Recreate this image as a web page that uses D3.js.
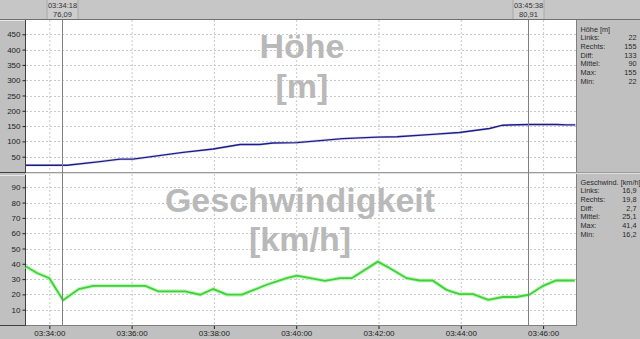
<!DOCTYPE html>
<html><head><meta charset="utf-8">
<script src="https://cdn.jsdelivr.net/npm/d3@7"></script>
<style>body{margin:0;background:#c0c0c0}svg{display:block;font-family:"Liberation Sans",Arial,sans-serif}</style>
</head><body><svg id="c" width="640" height="339"></svg>
<script>
const hoeheTimes = ["03:33:26","03:34:26","03:35:14","03:35:43","03:36:02","03:37:15","03:37:59","03:38:38","03:39:07","03:39:26","03:40:01","03:41:08","03:41:58","03:42:27","03:43:19","03:43:58","03:44:42","03:45:01","03:45:40","03:46:20","03:46:34","03:46:47"];
const hoeheValues = [22,22,34,42,42,64,75,90,90,95,96,109,114,115,123,129,142,153,155,155,154,154];
const speedTimes = ["03:33:26","03:33:42","03:34:00","03:34:20","03:34:43","03:35:04","03:36:20","03:36:39","03:37:18","03:37:40","03:37:59","03:38:19","03:38:41","03:39:17","03:39:46","03:40:01","03:40:42","03:41:04","03:41:21","03:41:59","03:42:16","03:42:41","03:43:00","03:43:19","03:43:39","03:43:58","03:44:18","03:44:40","03:45:01","03:45:21","03:45:40","03:46:00","03:46:19","03:46:46"];
const speedValues = [38.2,34,30.6,16.2,23.5,25.6,25.6,22,22,19.8,23.5,19.8,19.8,26.3,30.6,32.2,28.9,30.6,30.6,41.4,37.2,30.6,29.1,29.1,23,20.2,20.2,16.4,18.3,18.3,19.8,25.6,29.1,29.1];
const hoeheTicks = [50,100,150,200,250,300,350,400,450];
const speedTicks = [10,20,30,40,50,60,70,80,90];
const cursorTimes = ["03:34:18","03:45:38"];
const cursorLabels = ["76,09","80,91"];
const statLabels = ["Links:","Rechts:","Diff:","Mittel:","Max:","Min:"];
const hoeheStats = ["22","155","133","90","155","22"];
const speedStats = ["16,9","19,8","2,7","25,1","41,4","16,2"];
const domainStart = "03:33:26", domainEnd = "03:46:48";

const parse = d3.timeParse("%H:%M:%S");
const svg = d3.select("#c");
const L = 26, R = 576;
const x = d3.scaleTime().domain([parse(domainStart), parse(domainEnd)]).range([L, R]);
const yTop = d3.scaleLinear().domain([0,500]).range([172,19]);
const yBot = d3.scaleLinear().domain([0,100]).range([325,172]);

// backgrounds
svg.append("rect").attr("x",0).attr("y",0).attr("width",640).attr("height",339).attr("fill","#c0c0c0");
svg.append("rect").attr("x",0).attr("y",0).attr("width",640).attr("height",19).attr("fill","#c6c6c6");
svg.append("line").attr("x1",0).attr("x2",640).attr("y1",19.5).attr("y2",19.5).attr("stroke","#707070");
// plot areas
svg.append("rect").attr("x",L).attr("y",20).attr("width",R-L).attr("height",152).attr("fill","#fff");
svg.append("rect").attr("x",L).attr("y",174).attr("width",R-L).attr("height",151).attr("fill","#fff");
svg.append("line").attr("x1",L).attr("x2",640).attr("y1",172.5).attr("y2",172.5).attr("stroke","#9a9a9a");
svg.append("line").attr("x1",L).attr("x2",640).attr("y1",173.5).attr("y2",173.5).attr("stroke","#e0e0e0");
// left strips
[[20,172],[175,325]].forEach(([a,b])=>{
  svg.append("rect").attr("x",0).attr("y",a).attr("width",25).attr("height",b-a).attr("fill","#c0c0c0");
  svg.append("line").attr("x1",25.5).attr("x2",25.5).attr("y1",a).attr("y2",b).attr("stroke","#404040");
  svg.append("line").attr("x1",0).attr("x2",26).attr("y1",b+0.5).attr("y2",b+0.5).attr("stroke","#404040");
  svg.append("line").attr("x1",0).attr("x2",25).attr("y1",a+0.5).attr("y2",a+0.5).attr("stroke","#e8e8e8");
});
// right stat panels
[[20,172],[174,326]].forEach(([a,b])=>{
  svg.append("line").attr("x1",R+0.5).attr("x2",R+0.5).attr("y1",a).attr("y2",b).attr("stroke","#808080");
});
svg.append("line").attr("x1",L).attr("x2",R).attr("y1",325.5).attr("y2",325.5).attr("stroke","#808080");

// grid
const xt = x.ticks(d3.timeMinute.every(2));
const gridG = svg.append("g").attr("stroke","#c8c8c8").attr("stroke-dasharray","2,2");
xt.forEach(t=>{
  gridG.append("line").attr("x1",x(t)+0.5).attr("x2",x(t)+0.5).attr("y1",20).attr("y2",172);
  gridG.append("line").attr("x1",x(t)+0.5).attr("x2",x(t)+0.5).attr("y1",174).attr("y2",325);
});
hoeheTicks.forEach(v=>gridG.append("line").attr("x1",L).attr("x2",R).attr("y1",Math.round(yTop(v))+0.5).attr("y2",Math.round(yTop(v))+0.5));
speedTicks.forEach(v=>gridG.append("line").attr("x1",L).attr("x2",R).attr("y1",Math.round(yBot(v))+0.5).attr("y2",Math.round(yBot(v))+0.5));

// watermarks
const wm = svg.append("g").attr("fill","#b9b9b9").attr("font-weight","bold").attr("font-size",34).attr("text-anchor","middle");
wm.append("text").attr("x",302).attr("y",58).text("Höhe");
wm.append("text").attr("x",302).attr("y",98).text("[m]");
wm.append("text").attr("x",300).attr("y",212).text("Geschwindigkeit");
wm.append("text").attr("x",300).attr("y",251).text("[km/h]");

// y axes
const axL = (g)=>{g.select(".domain").remove(); g.selectAll("text").attr("fill","#222").attr("font-size",8).attr("x",-5); g.selectAll("line").attr("stroke","#222");};
svg.append("g").attr("transform","translate(25.5,0)").call(d3.axisLeft(yTop).tickValues(hoeheTicks).tickSize(3).tickPadding(2)).call(axL);
svg.append("g").attr("transform","translate(25.5,0)").call(d3.axisLeft(yBot).tickValues(speedTicks).tickSize(3).tickPadding(2)).call(axL);
svg.selectAll("g text").attr("font-family","Liberation Sans, Arial, sans-serif");

// x axis
svg.append("g").attr("transform","translate(0,326)")
  .call(d3.axisBottom(x).tickValues(xt).tickFormat(d3.timeFormat("%H:%M:%S")).tickSize(3).tickPadding(1))
  .call(g=>{g.select(".domain").remove(); g.selectAll("text").attr("fill","#222").attr("font-size",8).attr("font-family","Liberation Sans, Arial, sans-serif"); g.selectAll("line").attr("stroke","#222");});

// lines
const hData = hoeheTimes.map((t,i)=>({t:parse(t),v:hoeheValues[i]}));
const sData = speedTimes.map((t,i)=>({t:parse(t),v:speedValues[i]}));
const lineTop = d3.line().x(d=>x(d.t)).y(d=>yTop(d.v));
const lineBot = d3.line().x(d=>x(d.t)).y(d=>yBot(d.v));
svg.append("path").datum(hData).attr("d",lineTop).attr("fill","none").attr("stroke","#8888cc").attr("stroke-width",2.6).attr("opacity",0.3);
svg.append("path").datum(hData).attr("d",lineTop).attr("fill","none").attr("stroke","#1c1c8a").attr("stroke-width",1.4);
svg.append("path").datum(sData).attr("d",lineBot).attr("fill","none").attr("stroke","#b8f5b0").attr("stroke-width",4).attr("opacity",0.8);
svg.append("path").datum(sData).attr("d",lineBot).attr("fill","none").attr("stroke","#3fd03a").attr("stroke-width",1.8);

// cursors
cursorTimes.forEach((c,i)=>{
  const cx = Math.round(x(parse(c)))+0.5;
  svg.append("line").attr("x1",cx).attr("x2",cx).attr("y1",20).attr("y2",325).attr("stroke","#808080");
  svg.append("rect").attr("x",cx-15.5).attr("y",0).attr("width",31).attr("height",19).attr("fill","#cdcdcd");
  svg.append("line").attr("x1",cx-15.5).attr("x2",cx-15.5).attr("y1",0).attr("y2",19).attr("stroke","#a8a8a8");
  svg.append("line").attr("x1",cx+15.5).attr("x2",cx+15.5).attr("y1",0).attr("y2",19).attr("stroke","#a8a8a8");
  svg.append("text").attr("x",cx).attr("y",8).attr("text-anchor","middle").attr("font-size",7.5).attr("fill","#333").text(c);
  svg.append("text").attr("x",cx).attr("y",17).attr("text-anchor","middle").attr("font-size",7.5).attr("fill","#333").text(cursorLabels[i]);
});

// stats
function stats(title, vals, y0){
  const g = svg.append("g").attr("font-size",7.3).attr("fill","#2a2a2a");
  g.append("text").attr("x",580.5).attr("y",y0).text(title);
  statLabels.forEach((l,i)=>{
    g.append("text").attr("x",580.5).attr("y",y0+8.7*(i+1)).text(l);
    g.append("text").attr("x",636.5).attr("y",y0+8.7*(i+1)).attr("text-anchor","end").text(vals[i]);
  });
}
stats("Höhe [m]", hoeheStats, 31.5);
stats("Geschwind. [km/h]", speedStats, 184.5);
</script></body></html>
